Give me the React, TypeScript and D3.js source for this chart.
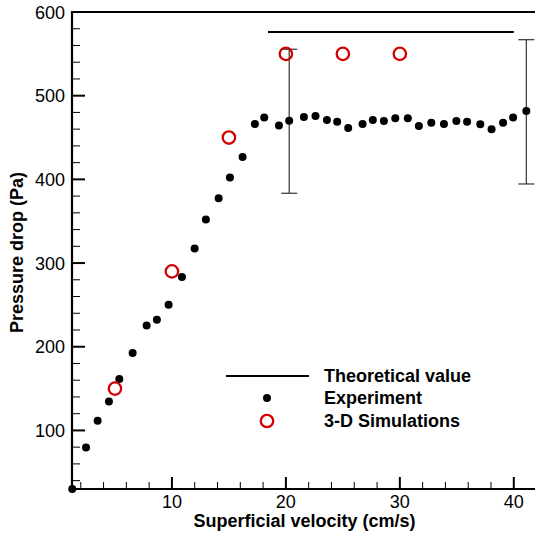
import React from 'react';
import * as d3 from 'd3';

// Experiment (black dots)
const expX = [1.25, 2.46, 3.48, 4.47, 5.38, 6.55, 7.78, 8.68, 9.71, 10.88, 11.99, 12.98, 14.1, 15.09, 16.2, 17.28, 18.1, 19.39, 20.29, 21.58, 22.6, 23.6, 24.5, 25.47, 26.73, 27.63, 28.6, 29.6, 30.7, 31.67, 32.76, 33.87, 34.96, 35.9, 37.06, 38.05, 39.06, 39.94, 41.1];
const expY = [30, 79.7, 111.6, 134.6, 161.4, 192.5, 225.4, 232.2, 250.2, 283.4, 317.5, 352.1, 377.5, 402.3, 426.7, 466.2, 473.8, 464.3, 469.9, 474.6, 475.8, 471, 469, 461.5, 466.2, 471, 469.8, 473, 473, 463.8, 467.8, 466.2, 469.8, 469, 465.8, 459.9, 467.8, 473.8, 481.7];

// 3-D simulations (red open circles)
const simX = [5, 10, 15, 20, 25, 30];
const simY = [150, 290, 450, 550, 550, 550];

// Theoretical value
const theoX = [18.43, 40];
const theoY = 576;

// Error bars
const errX = [20.29, 41.1];
const errLow = [383.4, 394.5];
const errHigh = [555.5, 566.9];

const xMajor = [10, 20, 30, 40];
const yMajor = [100, 200, 300, 400, 500, 600];

const W = 535;
const H = 535;
const left = 72, right = 540, top = 12, bottom = 489;
const font = 'Liberation Sans, Arial, Helvetica, sans-serif';

export default function App() {
  const x = d3.scaleLinear().domain([1.23, 42.3]).range([left, right]);
  const y = d3.scaleLinear().domain([30, 600]).range([bottom, top]);

  const xMinor = d3.range(2, 42, 2).filter(v => v % 10 !== 0);
  const yMinor = d3.range(40, 600, 20).filter(v => v % 100 !== 0);

  return (
    <svg width={W} height={H} style={{ position: 'absolute', left: 0, top: 0, background: '#fff' }}>
      {/* frame */}
      <line x1={left} x2={W} y1={top} y2={top} stroke="#000" strokeWidth={2} />
      <line x1={left} x2={left} y1={top - 1} y2={bottom + 1} stroke="#000" strokeWidth={2.2} />
      <line x1={left - 1} x2={W} y1={bottom} y2={bottom} stroke="#000" strokeWidth={2.2} />

      {/* x ticks */}
      {xMajor.map(v => (
        <g key={'xm' + v}>
          <line x1={x(v)} x2={x(v)} y1={bottom} y2={bottom - 12} stroke="#000" strokeWidth={2} />
          <text x={x(v)} y={bottom + 19} textAnchor="middle" fontFamily={font} fontSize={18} fill="#000">{v}</text>
        </g>
      ))}
      {xMinor.map(v => (
        <line key={'xn' + v} x1={x(v)} x2={x(v)} y1={bottom} y2={bottom - 7} stroke="#000" strokeWidth={1} />
      ))}

      {/* y ticks */}
      {yMajor.map(v => (
        <g key={'ym' + v}>
          <line x1={left} x2={left + 13} y1={y(v)} y2={y(v)} stroke="#000" strokeWidth={2} />
          <text x={left - 7} y={y(v) + 6.5} textAnchor="end" fontFamily={font} fontSize={18} fill="#000">{v}</text>
        </g>
      ))}
      {yMinor.map(v => (
        <line key={'yn' + v} x1={left} x2={left + 8} y1={y(v)} y2={y(v)} stroke="#000" strokeWidth={1} />
      ))}

      {/* axis titles */}
      <text x={(left + W) / 2 + 1} y={527} textAnchor="middle" fontFamily={font} fontSize={18} fontWeight="bold">Superficial velocity (cm/s)</text>
      <text transform={`translate(23,${(top + bottom) / 2 + 2}) rotate(-90)`} textAnchor="middle" fontFamily={font} fontSize={18} fontWeight="bold">Pressure drop (Pa)</text>

      {/* theoretical line */}
      <line x1={x(theoX[0])} x2={x(theoX[1])} y1={y(theoY)} y2={y(theoY)} stroke="#000" strokeWidth={2} />

      {/* error bars */}
      {errX.map((v, i) => (
        <g key={'e' + i} stroke="#333" strokeWidth={1.2}>
          <line x1={x(v)} x2={x(v)} y1={y(errLow[i])} y2={y(errHigh[i])} />
          <line x1={x(v) - 8} x2={x(v) + 8} y1={y(errLow[i])} y2={y(errLow[i])} />
          <line x1={x(v) - 8} x2={x(v) + 8} y1={y(errHigh[i])} y2={y(errHigh[i])} />
        </g>
      ))}

      {/* experiment */}
      {expX.map((v, i) => (
        <circle key={'p' + i} cx={x(v)} cy={y(expY[i])} r={4} fill="#000" />
      ))}

      {/* simulations */}
      {simX.map((v, i) => (
        <circle key={'s' + i} cx={x(v)} cy={y(simY[i])} r={6.2} fill="none" stroke="#d40000" strokeWidth={2.3} />
      ))}

      {/* legend */}
      <line x1={226} x2={309} y1={376} y2={376} stroke="#000" strokeWidth={2} />
      <circle cx={267} cy={398} r={4} fill="#000" />
      <circle cx={267} cy={421} r={6.2} fill="none" stroke="#d40000" strokeWidth={2.3} />
      <text x={324} y={382} fontFamily={font} fontSize={18} fontWeight="bold">Theoretical value</text>
      <text x={324} y={403.5} fontFamily={font} fontSize={18} fontWeight="bold">Experiment</text>
      <text x={324} y={427} fontFamily={font} fontSize={18} fontWeight="bold">3-D Simulations</text>
    </svg>
  );
}
